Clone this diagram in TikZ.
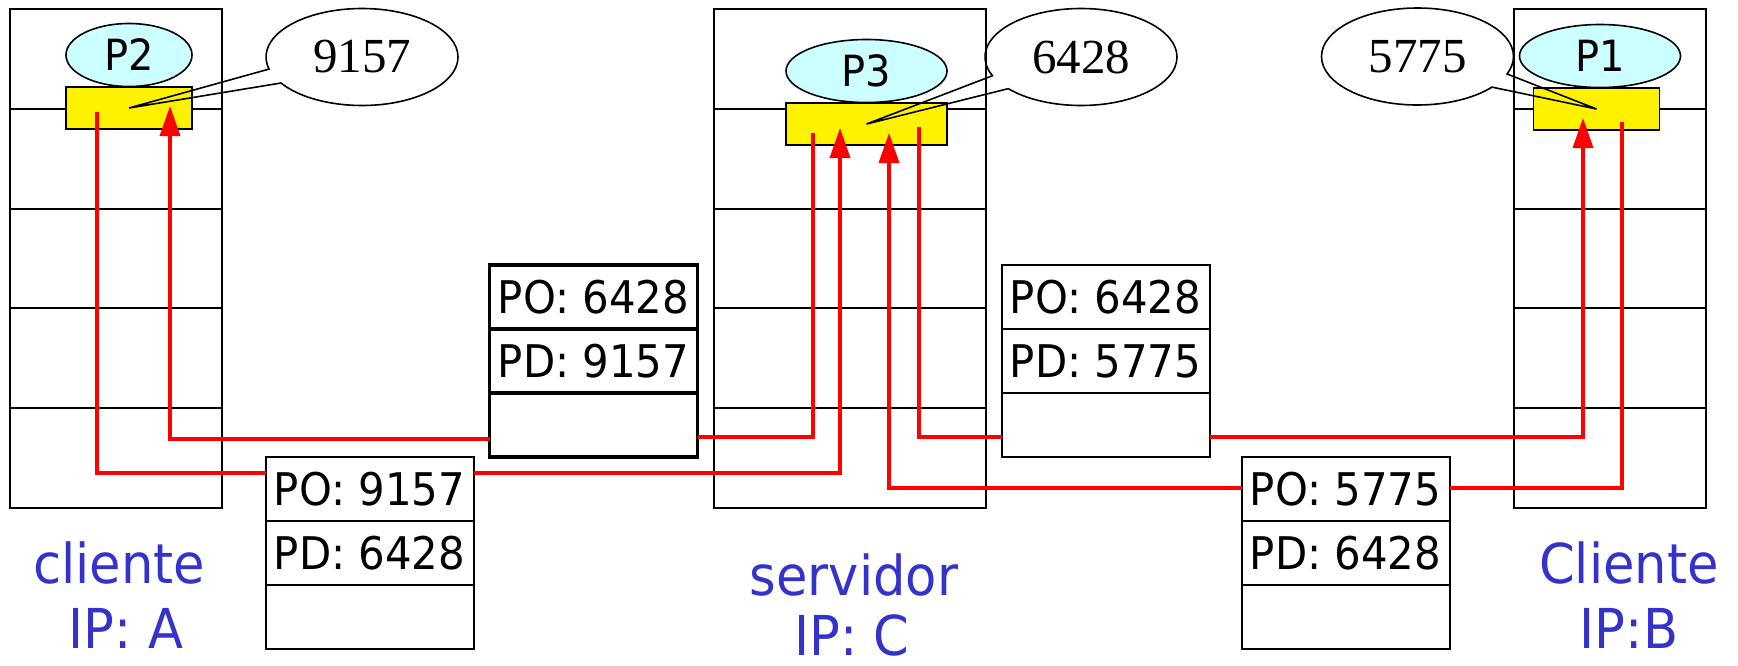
\documentclass[tikz,border=0pt]{standalone}
\usepackage{fontspec}
\setmainfont{DejaVu Sans}[FakeStretch=0.93]
\newfontfamily\numfont{Liberation Serif}
\usetikzlibrary{positioning,shapes.geometric,shapes.callouts,arrows.meta}
\definecolor{proccyan}{RGB}{204,255,255}
\definecolor{lblblue}{RGB}{51,51,204}
\tikzset{
  hostcell/.style={draw,line width=2pt,minimum height=99.8pt,inner sep=0pt,outer sep=0pt},
  proc/.style={ellipse,draw,line width=1.6pt,fill=proccyan,minimum height=63pt,inner sep=0pt,font=\fontsize{43}{51}\selectfont},
  port/.style={draw,line width=1.6pt,fill=yellow,minimum height=42pt,inner sep=0pt},
  bubble/.style={ellipse callout,draw,line width=1.6pt,minimum width=192pt,minimum height=97pt,callout pointer arc=18,inner sep=0pt,font=\numfont\fontsize{49}{58}\selectfont},
  pktcell/.style={draw,line width=2pt,minimum width=208pt,minimum height=64pt,inner sep=0pt,outer sep=0pt,fill=white,font=\fontsize{45}{54}\selectfont},
  hostlbl/.style={text=lblblue,anchor=base,inner sep=0pt,font=\fontsize{55}{66}\selectfont},
  flow/.style={draw=red,line width=3.6pt},
  flowarr/.style={flow,-{Triangle[width=20pt,length=30pt]}}
}
\begin{document}
\begin{tikzpicture}[x=1pt,y=-1pt]
  \useasboundingbox (0,0) rectangle (1738,665);
  \foreach \i in {1,...,5} {
    \node[hostcell,minimum width=212pt] (A\i) at (116,{9+99.8*(\i-0.5)}) {};
    \node[hostcell,minimum width=272.5pt] (C\i) at (849.75,{9+99.8*(\i-0.5)}) {};
    \node[hostcell,minimum width=192pt] (B\i) at (1609.5,{9+99.8*(\i-0.5)}) {};
  }
  \node[port,minimum width=126pt] (pA) at (129,108) {};
  \node[port,minimum width=161pt] (pC) at (866.5,124) {};
  \node[port,minimum width=126pt] (pB) at (1596.5,109) {};
  \node[proc,minimum width=126pt] (P2) at (129,55) {P2};
  \node[proc,minimum width=161pt] (P3) at (866.5,71) {P3};
  \node[proc,minimum width=161pt] (P1) at (1600,56) {P1};
  \node[bubble,callout absolute pointer={(pA.center)}] (bA) at (362,57) {9157};
  \node[bubble,callout absolute pointer={(pC.center)}] (bC) at (1081,57) {6428};
  \node[bubble,callout absolute pointer={(pB.center)}] (bB) at (1417.5,56.5) {5775};

  \node[pktcell] (acO) at (369.5,489) {PO: 9157};
  \node[pktcell,below=0pt of acO] (acD) {PD: 6428};
  \node[pktcell,below=0pt of acD] (acX) {};
  \node[pktcell,line width=3.5pt] (caO) at (593.5,297) {PO: 6428};
  \node[pktcell,line width=3.5pt,below=0pt of caO] (caD) {PD: 9157};
  \node[pktcell,line width=3.5pt,below=0pt of caD] (caX) {};
  \node[pktcell] (cbO) at (1105.5,297) {PO: 6428};
  \node[pktcell,below=0pt of cbO] (cbD) {PD: 5775};
  \node[pktcell,below=0pt of cbD] (cbX) {};
  \node[pktcell] (bcO) at (1345.5,489) {PO: 5775};
  \node[pktcell,below=0pt of bcO] (bcD) {PD: 6428};
  \node[pktcell,below=0pt of bcD] (bcX) {};

  \coordinate (sA) at (97,112);
  \coordinate (tA) at (170,106);
  \coordinate (sC1) at (813,133);
  \coordinate (tC1) at (840,128);
  \coordinate (tC2) at (889,133);
  \coordinate (sC2) at (919,127);
  \coordinate (tB) at (1583,118);
  \coordinate (sB) at (1622,122);
  \draw[flow] (sA) |- ([yshift=16pt]acO.west);
  \draw[flowarr] ([yshift=16pt]acO.east) -| (tC1);
  \draw[flow] (sC1) |- ([yshift=-12pt]caX.east);
  \draw[flowarr] ([yshift=-14pt]caX.west) -| (tA);
  \draw[flow] (sC2) |- ([yshift=-12pt]cbX.west);
  \draw[flowarr] ([yshift=-12pt]cbX.east) -| (tB);
  \draw[flow] (sB) |- ([yshift=1pt]bcO.east);
  \draw[flowarr] ([yshift=1pt]bcO.west) -| (tC2);

  \node[hostlbl] (labA) at (119,583) {cliente};
  \node[hostlbl] (ipA) at (126,648) {IP: A};
  \node[hostlbl] (labC) at (854,595) {servidor};
  \node[hostlbl] (ipC) at (852,655) {IP: C};
  \node[hostlbl] (labB) at (1629,583) {Cliente};
  \node[hostlbl] (ipB) at (1629,648) {IP:B};
\end{tikzpicture}
\end{document}
